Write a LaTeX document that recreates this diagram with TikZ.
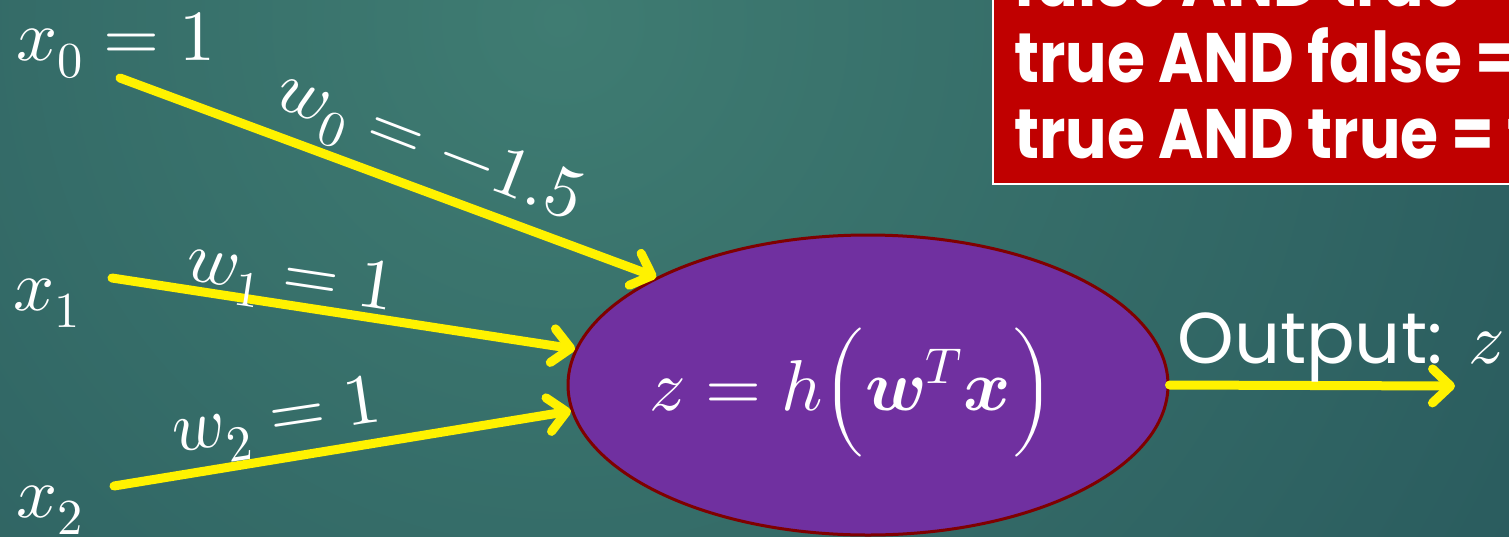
\documentclass[tikz,border=0pt]{standalone}
\usepackage{fontspec}
\usepackage{unicode-math}
\usetikzlibrary{arrows.meta,shapes.geometric}
\newfontfamily\gothic{Poppins}
\newfontfamily\gothicbold[FakeStretch=0.88]{Poppins Bold}
\definecolor{bgin}{HTML}{3F7C72}
\definecolor{bgout}{HTML}{173E4C}
\definecolor{neuron}{HTML}{7030A0}
\definecolor{neuronborder}{HTML}{7F0000}
\definecolor{boxred}{HTML}{C00000}
\tikzset{
  mathtext/.style={text=white, inner sep=0pt, font=\fontsize{36}{40}\selectfont},
  wire/.style={draw=yellow, line width=4.5pt, line cap=round, line join=round,
    -{Straight Barb[length=9pt,width=17pt,line cap=round,line join=round]}},
  boxline/.style={text=white, inner sep=0pt, anchor=base west, font=\gothicbold\fontsize{35}{40}\selectfont},
}
\begin{document}
\begin{tikzpicture}[x=0.5pt,y=-0.5pt]
\useasboundingbox (0,0) rectangle (1509,536);
\clip (0,0) rectangle (1509,536);
\shade[inner color=bgin, outer color=bgout] (560,20) circle (2100);

% red box
\draw[fill=boxred, draw=white, line width=1pt] (993,-20) rectangle (1560,184);
\node[boxline] (l1) at (1014,6) {false AND true = false};
\node[boxline] (l2) at (1014,82) {true AND false = false};
\node[boxline] (l3) at (1014,158) {true AND true = true};

% neuron
\node[ellipse, fill=neuron, draw=neuronborder, line width=1.5pt,
  minimum width=300pt, minimum height=150pt, inner sep=0pt] (n) at (868,385) {};
\node[mathtext] (f) at (852,392) {$z=h\Bigl(\symbfit{w}^{T}\symbfit{x}\Bigr)$};

% inputs
\node[mathtext, anchor=base west] (x0) at (16,60) {$x_0=1$};
\node[mathtext, anchor=base west] (x1) at (13,310) {$x_1$};
\node[mathtext, anchor=base west] (x2) at (16,517) {$x_2$};

\coordinate (s0) at (120,78);
\coordinate (s1) at (112,278);
\coordinate (s2) at (114,486);

\draw[wire] (s0) -- (n.153.8);
\draw[wire] (s1) -- (n.173.2);
\draw[wire] (s2) -- (n.185.2);

\node[mathtext, rotate=-21] (w0) at (428,150) {$w_0=-1.5$};
\node[mathtext, rotate=-8.5] (w1) at (290,280) {$w_1=1$};
\node[mathtext, rotate=8.5] (w2) at (277,422) {$w_2=1$};

% output
\coordinate (o) at (1455,386);
\draw[wire] (n.east) -- (o);
\node[text=white, inner sep=0pt, anchor=base west, font=\gothic\fontsize{36}{40}\selectfont] (out) at (1177,363) {Output: $z$};
\end{tikzpicture}
\end{document}
